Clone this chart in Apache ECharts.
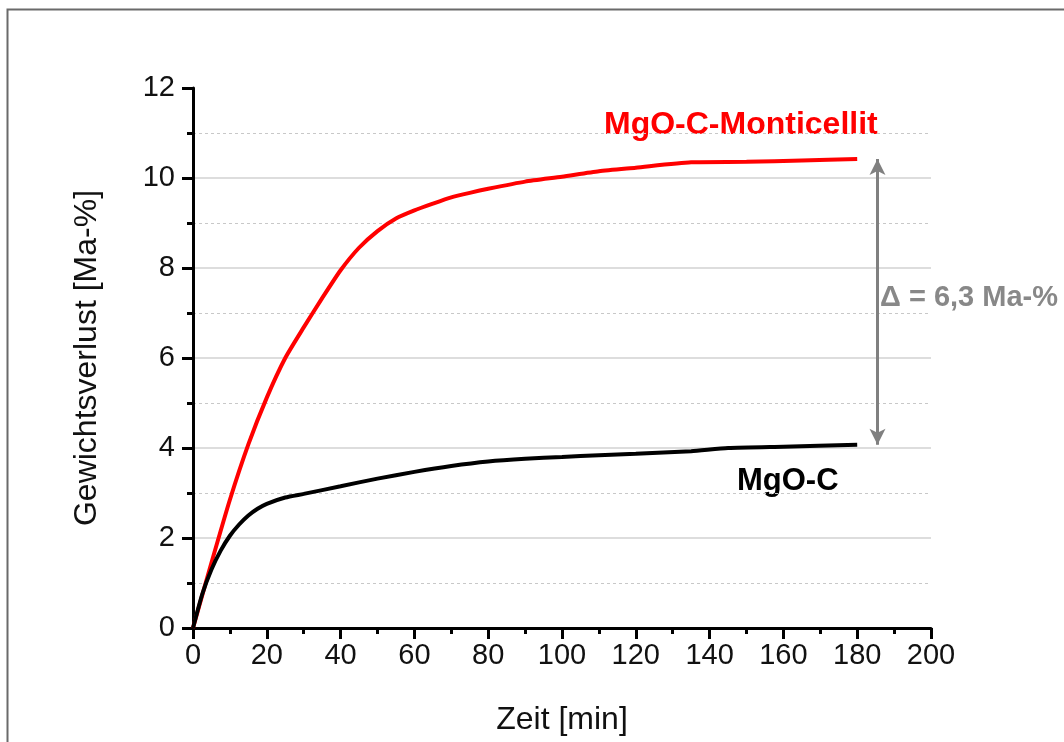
<!DOCTYPE html>
<html><head><meta charset="utf-8">
<script src="https://cdn.jsdelivr.net/npm/echarts@6/dist/echarts.min.js"></script>
<style>html,body{margin:0;padding:0;background:#fff}#c{width:1064px;height:742px}</style>
</head><body><div id="c"></div>
<script>
// Data (time in min, weight loss in Ma-%)
const redTime  = [0, 5, 10, 15, 20, 25, 30, 35, 40, 45, 50, 55, 60, 65, 70, 75, 80, 90, 100, 110, 120, 135, 150, 165, 180];
const redLoss  = [0, 1.45, 2.85, 4.08, 5.12, 6.0, 6.68, 7.33, 7.95, 8.45, 8.82, 9.1, 9.28, 9.43, 9.57, 9.67, 9.76, 9.92, 10.03, 10.15, 10.23, 10.35, 10.36, 10.39, 10.42];
const blackTime = [0, 2.5, 5, 7.5, 10, 12.5, 15, 17.5, 20, 25, 30, 40, 50, 60, 70, 80, 90, 100, 110, 120, 135, 145, 160, 180];
const blackLoss = [0, 0.75, 1.3, 1.72, 2.05, 2.3, 2.5, 2.65, 2.76, 2.9, 2.98, 3.15, 3.32, 3.47, 3.6, 3.7, 3.76, 3.8, 3.84, 3.87, 3.93, 4.0, 4.03, 4.07];
const deltaArrowTime = 185.5;
const deltaFrom = 4.07, deltaTo = 10.42;
const seriesNames = ['MgO-C-Monticellit', 'MgO-C'];
const deltaLabel = '\u0394 = 6,3 Ma-%';
const xTitle = 'Zeit [min]';
const yTitle = 'Gewichtsverlust [Ma-%]';

const FONT = '"Liberation Sans", Arial, sans-serif';
const chart = echarts.init(document.getElementById('c'), null, {renderer: 'canvas'});
const zip = (a, b) => a.map((v, i) => [v, b[i]]);

chart.setOption({
  animation: false,
  backgroundColor: '#fff',
  grid: {left: 193, right: 133, top: 88, bottom: 114, containLabel: false},
  xAxis: {
    type: 'value', min: 0, max: 200, interval: 20,
    name: xTitle, nameLocation: 'middle', nameGap: 76,
    nameTextStyle: {fontFamily: FONT, fontSize: 32, color: '#111'},
    axisLine: {onZero: false, lineStyle: {color: '#000', width: 3}},
    axisTick: {show: true, inside: false, length: 11, lineStyle: {color: '#000', width: 3}},
    minorTick: {show: true, splitNumber: 2, length: 6, lineStyle: {color: '#000', width: 3}},
    axisLabel: {fontFamily: FONT, fontSize: 29, color: '#111', margin: 13},
    splitLine: {show: false}
  },
  yAxis: {
    type: 'value', min: 0, max: 12, interval: 2,
    name: yTitle, nameLocation: 'middle', nameGap: 90, nameRotate: 90,
    nameTextStyle: {fontFamily: FONT, fontSize: 32, color: '#111'},
    axisLine: {show: true, onZero: false, lineStyle: {color: '#000', width: 3}},
    axisTick: {show: true, inside: false, length: 11, lineStyle: {color: '#000', width: 3}},
    minorTick: {show: true, splitNumber: 2, length: 6, lineStyle: {color: '#000', width: 3}},
    axisLabel: {fontFamily: FONT, fontSize: 29, color: '#111', margin: 18},
    splitLine: {show: true, lineStyle: {color: ['#d2d2d2','#d2d2d2','#d2d2d2','#d2d2d2','#d2d2d2','#d2d2d2','rgba(0,0,0,0)'], width: 1.5}},
    minorSplitLine: {show: true, lineStyle: {color: '#c8c8c8', width: 1, type: [3, 3]}}
  },
  series: [
    {
      name: seriesNames[0], type: 'line', data: zip(redTime, redLoss),
      showSymbol: false, smooth: 0.2,
      lineStyle: {color: '#ff0000', width: 4}, z: 3
    },
    {
      name: seriesNames[1], type: 'line', data: zip(blackTime, blackLoss),
      showSymbol: false, smooth: 0.2,
      lineStyle: {color: '#000000', width: 4}, z: 3,
      markLine: {
        silent: true, symbol: ['arrow', 'arrow'], symbolSize: [12, 16],
        label: {show: false},
        lineStyle: {color: '#808080', width: 3, type: 'solid'},
        data: [[{coord: [deltaArrowTime, deltaFrom]}, {coord: [deltaArrowTime, deltaTo]}]]
      }
    }
  ],
  graphic: [
    {type: 'rect', left: 5, top: 7, shape: {width: 1200, height: 900},
     style: {fill: 'none', stroke: '#6a6a6a', lineWidth: 2}, silent: true, z: 100},
    {type: 'text', left: 604, top: 109,
     style: {text: seriesNames[0], font: 'bold 32px ' + FONT, fill: '#ff0000'}},
    {type: 'text', left: 737, top: 466,
     style: {text: seriesNames[1], font: 'bold 31px ' + FONT, fill: '#000'}},
    {type: 'text', left: 880, top: 283,
     style: {text: deltaLabel, font: 'bold 29px ' + FONT, fill: '#888'}}
  ]
});
</script>
</body></html>
